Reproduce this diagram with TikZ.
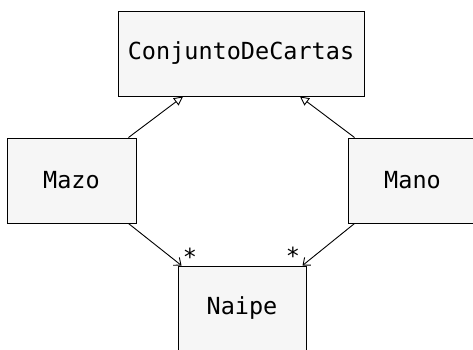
\documentclass[tikz,border=0pt]{standalone}
\usepackage{fontspec}
\setmonofont{DejaVu Sans Mono}
\usetikzlibrary{arrows.meta}
\begin{document}
\begin{tikzpicture}[x=1pt,y=-1pt,
  cls/.style={draw=black, line width=1pt, fill={rgb,255:red,246;green,246;blue,246}, inner sep=0pt,
    minimum height=85pt, font=\ttfamily\fontsize{23.5}{28}\selectfont},
  gen/.style={draw=black, line width=0.9pt, -{Triangle[open,length=9pt,width=9pt]}},
  assoc/.style={draw=black, line width=0.9pt, -{Straight Barb[length=6pt,width=10pt]}},
  mult/.style={font=\ttfamily\fontsize{23.5}{28}\selectfont, inner sep=0pt}]
\useasboundingbox (0,0) rectangle (473,349);
\clip (0,0) rectangle (473,349);
\node[cls, minimum width=246pt] (cdc) at (241,53.5) {ConjuntoDeCartas};
\node[cls, minimum width=129pt] (mazo) at (71.5,180.5) {Mazo};
\node[cls, minimum width=129pt] (mano) at (412.5,180.5) {Mano};
\node[cls, minimum width=128pt] (naipe) at (242,308.5) {Naipe};
\draw[gen] ([xshift=-8pt]mazo.north east) -- ([xshift=-58pt]cdc.south);
\draw[gen] ([xshift=7pt]mano.north west) -- ([xshift=59pt]cdc.south);
\draw[assoc] ([xshift=-8pt]mazo.south east) -- ([xshift=4pt]naipe.north west);
\draw[assoc] ([xshift=7pt]mano.south west) -- ([xshift=-4pt]naipe.north east);
\node[mult] (m1) at (190,257) {*};
\node[mult] (m2) at (293,256) {*};
\end{tikzpicture}
\end{document}
